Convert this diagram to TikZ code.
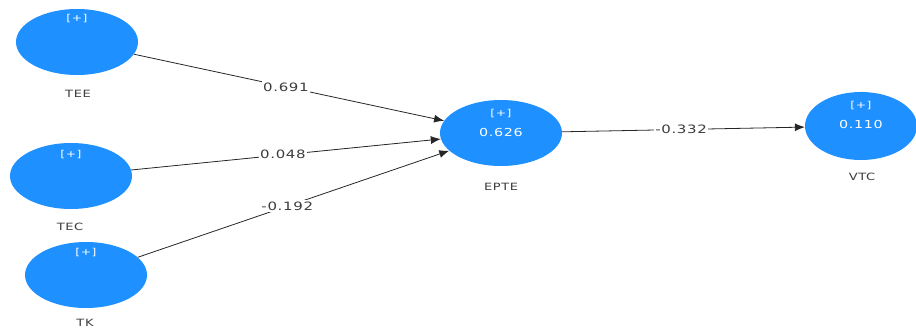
\documentclass[tikz,border=0pt]{standalone}
\usepackage{fontspec}
\setmainfont{DejaVu Sans}
\newfontfamily\labfont[FakeStretch=1.3,LetterSpace=6]{DejaVu Sans}
\usetikzlibrary{shapes.geometric,arrows.meta}
\definecolor{lvblue}{RGB}{30,144,255}
\definecolor{labgray}{RGB}{60,60,60}
\tikzset{
  lv/.style={ellipse,fill=lvblue,draw=none,inner sep=0pt,minimum width=122pt,minimum height=66pt},
  plustxt/.style={text=white,font=\labfont\fontsize{9.5}{10}\selectfont,inner sep=0pt},
  rsqtxt/.style={text=white,font=\labfont\fontsize{11}{12}\selectfont,inner sep=0pt},
  lvname/.style={text=labgray,font=\labfont\fontsize{10}{11}\selectfont,inner sep=0pt},
  pathline/.style={draw=black!85,line width=0.8pt,-{Latex[length=10pt,width=8pt]}},
  coef/.style={fill=white,text=labgray,font=\labfont\fontsize{11.5}{12}\selectfont,inner sep=1.5pt}
}
\begin{document}
\begin{tikzpicture}[x=1pt,y=-1pt]
\useasboundingbox (0,0) rectangle (916,332);
% latent variables
\node[lv] (tee) at (77,42) {};
\node[lv] (tec) at (71,176) {};
\node[lv] (tk) at (86,275) {};
\node[lv] (epte) at (501,133) {};
\node[lv,minimum width=112pt,minimum height=68pt] (vtc) at (861,126) {};
% inner texts
\node[plustxt] (teep) at (77,19) {[+]};
\node[plustxt] (tecp) at (71,155) {[+]};
\node[plustxt] (tkp) at (86,253) {[+]};
\node[plustxt] (eptep) at (501,114) {[+]};
\node[rsqtxt] (epter) at (501,132) {0.626};
\node[plustxt] (vtcp) at (861,106) {[+]};
\node[rsqtxt] (vtcr) at (861,124) {0.110};
% names
\node[lvname] (teen) at (78,94) {TEE};
\node[lvname] (tecn) at (70,227) {TEC};
\node[lvname] (tkn) at (85,323) {TK};
\node[lvname] (epten) at (501,187) {EPTE};
\node[lvname] (vtcn) at (862,177) {VTC};
% paths
\draw[pathline] (tee) -- node[coef,pos=0.49] {0.691} (epte);
\draw[pathline] (tec) -- node[coef,pos=0.49] {0.048} (epte);
\draw[pathline] (tk) -- node[coef,pos=0.48] {-0.192} (epte);
\draw[pathline] (epte) -- node[coef,pos=0.49] {-0.332} (vtc);
\end{tikzpicture}
\end{document}
